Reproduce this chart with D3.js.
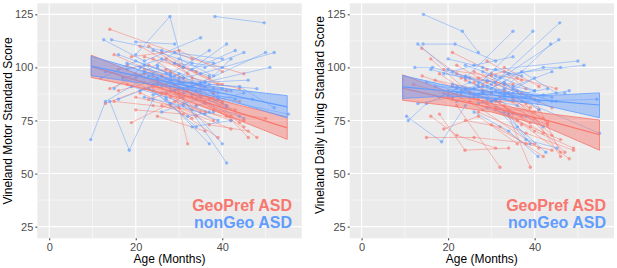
<!DOCTYPE html>
<html>
<head>
<meta charset="utf-8">
<script src="https://cdn.jsdelivr.net/npm/d3@7"></script>
<style>
  body { margin: 0; background: #fff; }
  text { font-family: "Liberation Sans", Arial, Helvetica, sans-serif; }
</style>
</head>
<body>
<div id="chart"></div>
<script>
// each subject = list of [age, score]
var motorGeo = [
  [[14,118],[33,104],[45,97]], [[13,83],[22,90],[34,82]], [[15,106],[26,96],[38,86]],
  [[16,89],[25,94],[35,79]], [[18,101],[29,92],[42,77]], [[19,74],[31,86]],
  [[20,97],[30,88],[44,84]], [[21,110],[32,97],[46,67]], [[22,93],[33,76]],
  [[23,85],[34,92],[45,72]], [[24,104],[35,89]], [[25,77],[36,70]],
  [[26,96],[36,84],[48,67]], [[27,88],[38,75]], [[28,98],[32,64]],
  [[17,95],[27,99],[38,88]], [[15,84],[24,82],[33,80]], [[19,105],[30,108],[40,98]],
  [[20,80],[31,78]], [[22,99],[30,94],[41,89]], [[24,91],[36,83],[44,74]],
  [[26,107],[34,98]], [[28,86],[37,73],[46,70]], [[29,92],[40,83]],
  [[30,101],[40,92]], [[31,83],[42,75]], [[33,95],[44,90]],
  [[16,99],[23,101],[31,95]], [[21,88],[28,82],[39,67]], [[25,93],[33,86],[41,77]],
  [[18,92],[26,88],[37,85]], [[27,104],[37,95]], [[23,110],[29,102],[38,88]],
  [[30,86],[38,80],[50,76]], [[14,90],[22,97],[32,89]], [[20,86],[30,81],[42,71]],
  [[24,96],[31,90],[40,84]], [[27,92],[35,86],[43,80]], [[29,84],[36,79],[45,75]],
  [[22,105],[31,100],[39,92]], [[32,90],[41,82]], [[26,82],[34,77]]
];
var motorNon = [
  [[9.6,66],[13,84],[24,97]], [[14,84],[18.5,61],[24,85]], [[20,106],[27.9,124],[31,100]],
  [[38.3,124],[49.7,121]], [[12.6,113],[22,103],[35,114]], [[14.4,113],[26,108],[38,102]],
  [[16,106],[28,97],[37,108]], [[18,102],[30,95],[41,111]], [[20,95],[29,107],[40,104]],
  [[22,98],[33,91],[50,107]], [[24,92],[35,97],[52,107]], [[25,101],[36,93],[51,100]],
  [[26,91],[39,85],[55.3,78]], [[27,85],[37,64]], [[28,94],[41,55]],
  [[29,89],[40,64]], [[30,93],[44,91],[52,81]], [[13,98],[21,96],[30,90]],
  [[15,90],[22,101],[33,87]], [[17,95],[24,89],[34,72]], [[19,91],[27,86],[37,79]],
  [[21,89],[30,97],[39,86]], [[23,96],[31,90],[42,89]], [[25,100],[32,91],[41,82]],
  [[26,79],[34,85],[45,76]], [[28,89],[36,93],[46,94]], [[30,104],[38,96],[42,104]],
  [[31,88],[40,90]], [[33,99],[43,108]], [[34,82],[45,88]],
  [[35,92],[44,77]], [[12,95],[20,103],[29,96]], [[16,85],[25,92],[35,93]],
  [[18,99],[26,104],[37,96]], [[22,86],[31,82],[39,75]], [[24,108],[33,102],[40,100]],
  [[27,97],[35,87],[47,85]], [[29,102],[36,100],[45,107]], [[32,77],[38,79]],
  [[20,112],[29,111]], [[23,90],[28,83],[36,78]], [[33,72],[42,75]],
  [[25,95],[31,93],[38,90]], [[28,91],[34,89],[43,85]], [[21,100],[28,96],[36,91]],
  [[31,95],[37,92],[48,90]], [[24,87],[30,90],[41,81]], [[33,93],[39,88]]
];
var dlsGeo = [
  [[13.9,109],[22,97],[33,92]], [[15,67],[26,67],[40,64]], [[16,104],[25,88],[35,78]],
  [[18,78],[23.9,61],[34,62]], [[17,94],[28,89],[39,81]], [[19,99],[30,96],[44,68]],
  [[20,86],[31,84],[42,69]], [[21,107],[29,99]], [[22,82],[32,53]],
  [[23,95],[35,92],[46,58]], [[24,90],[33,82],[39,53]], [[25,84],[36,75],[48,57]],
  [[26,98],[37,88],[44,81]], [[27,79],[38,69],[49,61]], [[28,88],[39,74]],
  [[29,103],[36,95],[45,90]], [[30,73],[38,64],[44,61]], [[31,92],[40,85],[46,60]],
  [[32,86],[42,76]], [[33,100],[41,91]], [[14,96],[21,91],[30,84]],
  [[16,77],[22,68],[31,62]], [[18,97],[26,86],[37,73]], [[20,89],[28,80],[41,62]],
  [[22,101],[29,93],[38,83]], [[24,75],[32,72],[42,58]], [[26,93],[34,80],[43,73]],
  [[28,84],[35,84],[47,60]], [[30,97],[37,94]], [[34,78],[40,70],[49,62]],
  [[12,92],[19,88],[27,85]], [[19,71],[27,77],[36,64]], [[23,87],[31,81],[40,79]],
  [[27,95],[33,98],[38,90]],
  [[25,88],[32,84],[40,76]], [[28,92],[35,85],[43,74]], [[21,85],[29,83],[37,77]],
  [[31,80],[39,72],[46,66]], [[24,94],[30,88]], [[33,89],[41,80]]
];
var dlsNon = [
  [[14.3,125],[23.3,117],[27,107]], [[10.4,77],[18.5,65],[24,82]], [[10.8,75],[15,83],[22,90]],
  [[12.3,100],[16.4,100],[25,95]], [[14.2,111],[21.6,111],[31,103]], [[13,111],[20,99],[27,93]],
  [[16,99],[24,95],[35,117]], [[17,91],[26,90],[39.6,117]], [[19,97],[30.8,93],[45.8,121]],
  [[20,87],[30,92],[45.6,113]], [[21,92],[32,88],[43.7,111]], [[22,84],[31,99],[50,103]],
  [[23,89],[34,97],[51.4,101]], [[24,96],[33,88],[55,69]], [[25,86],[37,84],[54.4,85]],
  [[26,79],[34,70],[40.8,58]], [[27,91],[36,72],[42.6,60]], [[28,88],[38,66],[45.2,62]],
  [[29,94],[39,86],[48,89]], [[30,84],[40,95]], [[31,89],[41,84]],
  [[32,95],[42,100],[46,100]], [[33,86],[43,90]], [[35,91],[44,98]],
  [[18,86],[25,93],[33,87]], [[20,104],[28,100],[37,96]], [[22,91],[29,85],[36,82]],
  [[24,101],[31,96],[40,89]], [[26,87],[33,93],[41,80]], [[28,98],[35,90],[44,84]],
  [[29,81],[34,78],[39,64]], [[15,93],[23,88],[31,85]], [[13,83],[21,86],[28,88]],
  [[27,83],[35,86],[47,88]], [[30,90],[37,98],[45,88]], [[33,79],[38,77],[42,72]],
  [[21,98],[26,101],[35,105]],
  [[24,90],[30,88],[38,86]], [[27,87],[33,90],[42,87]], [[29,91],[35,88],[44,86]],
  [[31,85],[36,89],[45,84]], [[22,88],[28,91],[34,88]], [[33,92],[40,89]]
];

// regression ribbons: [age, lower, fit, upper]
var motorGeoFit = [[9.7,95.3,100.5,105.8],[20,90.8,94,97.2],[30,85.6,87.6,89.6],[42,76.6,79.9,83.2],[55,66.1,71.5,76.6]];
var motorNonFit = [[9.7,96.1,100.6,105.2],[20,93,96.2,99.3],[30,90.4,92,93.6],[42,84.3,87,89.7],[55,76.2,81.4,86.7]];
var dlsGeoFit = [[9.5,84.5,90.2,96.5],[20,82,85.3,88.6],[30,79,81,83],[42,72.5,75.5,78.5],[55,61,68.3,75.2]];
var dlsNonFit = [[9.5,85.4,90.8,96.2],[20,86.5,88.9,91.3],[30,85.5,87,88.5],[42,82.3,84.5,86.7],[55,76.3,82.3,88]];

var xTicks = [0, 20, 40];
var xMinor = [10, 30, 50];
var yTicks = [25, 50, 75, 100, 125];
var yMinor = [37.5, 62.5, 87.5, 112.5];
var groupNames = ["GeoPref ASD", "nonGeo ASD"];

var width = 617, height = 268;
var red = "#F8766D", blue = "#619CFF";

var panels = [
  {geo: motorGeo, non: motorNon, geoFit: motorGeoFit, nonFit: motorNonFit,
   ylab: "Vineland Motor Standard Score", left: 37.3, right: 301.7, ylabX: 12, ylabY: 121, legX: 292},
  {geo: dlsGeo, non: dlsNon, geoFit: dlsGeoFit, nonFit: dlsNonFit,
   ylab: "Vineland Daily Living Standard Score", left: 349.7, right: 614, ylabX: 324, ylabY: 115, legX: 606}
];
var plotTop = 3.3, plotBottom = 238.3;

var svg = d3.select("#chart").append("svg")
  .attr("width", width).attr("height", height)
  .attr("viewBox", [0, 0, width, height]);

panels.forEach(function(p) {
  var x = d3.scaleLinear().domain([-2.75, 58.35]).range([p.left, p.right]);
  var y = d3.scaleLinear().domain([19.5, 130.2]).range([plotBottom, plotTop]);
  var g = svg.append("g");

  g.append("rect")
    .attr("x", p.left).attr("y", plotTop)
    .attr("width", p.right - p.left).attr("height", plotBottom - plotTop)
    .attr("fill", "#EBEBEB");

  // grid
  g.selectAll(".vmin").data(xMinor).join("line")
    .attr("x1", d => x(d)).attr("x2", d => x(d)).attr("y1", plotTop).attr("y2", plotBottom)
    .attr("stroke", "#fff").attr("stroke-width", 0.5);
  g.selectAll(".hmin").data(yMinor).join("line")
    .attr("y1", d => y(d)).attr("y2", d => y(d)).attr("x1", p.left).attr("x2", p.right)
    .attr("stroke", "#fff").attr("stroke-width", 0.5);
  g.selectAll(".vmaj").data(xTicks).join("line")
    .attr("x1", d => x(d)).attr("x2", d => x(d)).attr("y1", plotTop).attr("y2", plotBottom)
    .attr("stroke", "#fff").attr("stroke-width", 1.1);
  g.selectAll(".hmaj").data(yTicks).join("line")
    .attr("y1", d => y(d)).attr("y2", d => y(d)).attr("x1", p.left).attr("x2", p.right)
    .attr("stroke", "#fff").attr("stroke-width", 1.1);

  var line = d3.line().x(d => x(d[0])).y(d => y(d[1]));
  var fitLine = d3.line().x(d => x(d[0])).y(d => y(d[2]));

  // subject trajectories
  [[p.geo, red], [p.non, blue]].forEach(function(s) {
    var sg = g.append("g");
    sg.selectAll("path").data(s[0]).join("path")
      .attr("d", line).attr("fill", "none")
      .attr("stroke", s[1]).attr("stroke-width", 0.8).attr("stroke-opacity", 0.6);
    sg.selectAll("circle").data(s[0].flat()).join("circle")
      .attr("cx", d => x(d[0])).attr("cy", d => y(d[1])).attr("r", 1.7)
      .attr("fill", s[1]).attr("fill-opacity", 0.65);
  });

  // ribbons
  var area = d3.area().x(d => x(d[0])).y0(d => y(d[1])).y1(d => y(d[3]));
  [[p.geoFit, red], [p.nonFit, blue]].forEach(function(s) {
    g.append("path").datum(s[0]).attr("d", area)
      .attr("fill", s[1]).attr("fill-opacity", 0.45)
      .attr("stroke", s[1]).attr("stroke-width", 0.8);
    g.append("path").datum(s[0]).attr("d", fitLine)
      .attr("fill", "none").attr("stroke", s[1]).attr("stroke-width", 1.2);
  });

  // axes
  var xAxis = g.append("g").attr("transform", `translate(0,${plotBottom})`)
    .call(d3.axisBottom(x).tickValues(xTicks).tickSize(2).tickPadding(3));
  var yAxis = g.append("g").attr("transform", `translate(${p.left},0)`)
    .call(d3.axisLeft(y).tickValues(yTicks).tickSize(2).tickPadding(2));
  [xAxis, yAxis].forEach(function(a) {
    a.select(".domain").remove();
    a.selectAll(".tick line").attr("stroke", "#333");
    a.selectAll("text").attr("fill", "#4D4D4D").style("font-size", "11px")
      .style("font-family", "'Liberation Sans', Arial, sans-serif");
  });

  g.append("text")
    .attr("x", (p.left + p.right) / 2).attr("y", 263)
    .attr("text-anchor", "middle").style("font-size", "12px").text("Age (Months)");
  g.append("text")
    .attr("transform", `translate(${p.ylabX},${p.ylabY}) rotate(-90)`)
    .attr("text-anchor", "middle").style("font-size", "12px").text(p.ylab);

  g.selectAll(".leg").data(groupNames).join("text")
    .attr("x", p.legX).attr("y", (d, i) => 211 + i * 17)
    .attr("text-anchor", "end")
    .attr("fill", (d, i) => i ? blue : red)
    .style("font-size", "16px").style("font-weight", "bold")
    .text(d => d);
});
</script>
</body>
</html>
